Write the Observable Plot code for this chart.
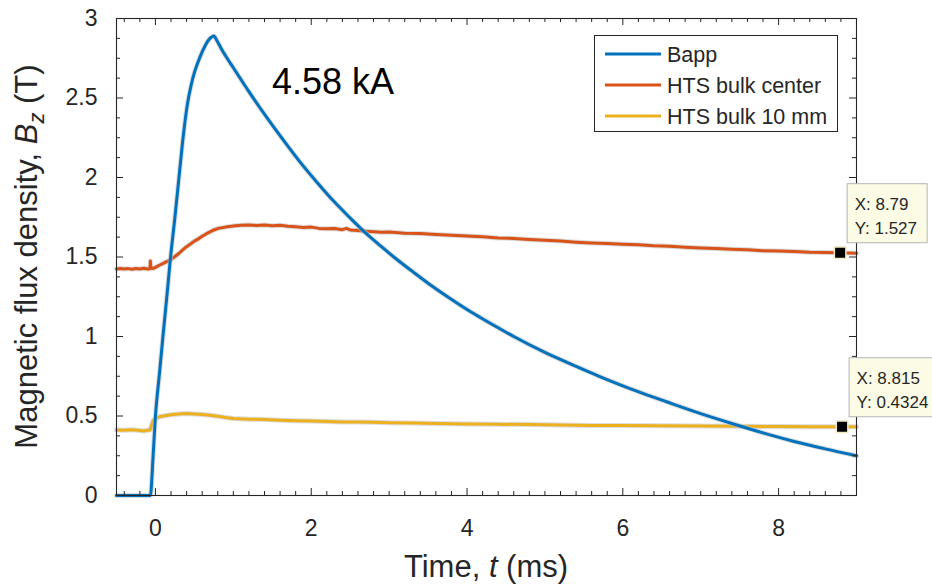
<!DOCTYPE html>
<html><head><meta charset="utf-8">
<script src="https://cdn.jsdelivr.net/npm/d3@7"></script>
<script src="https://cdn.jsdelivr.net/npm/@observablehq/plot@0.6"></script>
<style>html,body{margin:0;padding:0;background:#fff;} #chart svg{display:block}</style>
</head><body><div id="chart"></div>
<script>
// ---- data ----
const seriesNames = ["Bapp", "HTS bulk center", "HTS bulk 10 mm"];
const seriesColors = ["#0072BD", "#D95319", "#EDB120"];

const tBapp = [-0.5, -0.3, -0.1, -0.065, -0.03, 0, 0.05, 0.1, 0.15, 0.19, 0.25, 0.3, 0.35, 0.41, 0.46, 0.5, 0.55, 0.6, 0.65, 0.7, 0.75, 0.79, 0.84, 0.92, 1.0, 1.2, 1.44, 1.65, 1.86, 2.1, 2.29, 2.5, 2.7, 2.89, 3.06, 3.31, 3.5, 3.75, 4.0, 4.17, 4.4, 4.6, 5.0, 5.46, 5.72, 6.0, 6.3, 6.57, 7.0, 7.42, 7.8, 8.2, 8.6, 9.0];
const bBapp = [0, 0, 0, 0, 0.25, 0.5, 0.76, 1.02, 1.27, 1.48, 1.75, 1.99, 2.23, 2.46, 2.585, 2.66, 2.73, 2.79, 2.84, 2.875, 2.89, 2.86, 2.815, 2.75, 2.69, 2.54, 2.37, 2.23, 2.095, 1.955, 1.85, 1.745, 1.65, 1.57, 1.50, 1.405, 1.335, 1.25, 1.17, 1.12, 1.055, 1.0, 0.90, 0.80, 0.745, 0.69, 0.635, 0.588, 0.515, 0.45, 0.394, 0.34, 0.293, 0.25];

const tCenter = [-0.5, -0.45, -0.4, -0.35, -0.3, -0.25, -0.2, -0.15, -0.1, -0.07, -0.065, -0.06, -0.03, 0, 0.05, 0.1, 0.15, 0.2, 0.25, 0.3, 0.35, 0.4, 0.45, 0.5, 0.55, 0.6, 0.65, 0.7, 0.75, 0.8, 0.9, 1.0, 1.1, 1.2, 1.3, 1.4, 1.5, 1.6, 1.7, 1.8, 1.9, 2.0, 2.1, 2.2, 2.3, 2.4, 2.45, 2.5, 2.6, 2.7, 2.8, 2.9, 3.0, 3.2, 3.4, 3.6, 3.8, 4.0, 4.2, 4.4, 4.6, 4.8, 5.0, 5.2, 5.4, 5.6, 5.8, 6.0, 6.2, 6.4, 6.6, 6.8, 7.0, 7.2, 7.4, 7.6, 7.8, 8.0, 8.2, 8.4, 8.6, 8.79, 9.0];
const bCenter = [1.425, 1.428, 1.424, 1.427, 1.423, 1.428, 1.425, 1.429, 1.424, 1.426, 1.475, 1.432, 1.428, 1.435, 1.448, 1.46, 1.472, 1.485, 1.503, 1.522, 1.545, 1.565, 1.582, 1.6, 1.614, 1.63, 1.645, 1.658, 1.67, 1.679, 1.688, 1.695, 1.699, 1.702, 1.698, 1.701, 1.697, 1.699, 1.693, 1.69, 1.686, 1.688, 1.68, 1.677, 1.679, 1.672, 1.68, 1.67, 1.666, 1.662, 1.659, 1.656, 1.657, 1.65, 1.648, 1.642, 1.637, 1.632, 1.628, 1.62, 1.617, 1.61, 1.605, 1.6, 1.593, 1.588, 1.585, 1.58, 1.577, 1.57, 1.567, 1.561, 1.557, 1.553, 1.548, 1.545, 1.54, 1.537, 1.534, 1.53, 1.529, 1.527, 1.524];

const t10mm = [-0.5, -0.4, -0.3, -0.2, -0.15, -0.1, -0.07, -0.05, -0.03, 0, 0.05, 0.1, 0.2, 0.3, 0.4, 0.5, 0.6, 0.7, 0.8, 0.9, 1.0, 1.2, 1.4, 1.6, 1.8, 2.0, 2.2, 2.4, 2.6, 2.8, 3.0, 3.3, 3.6, 4.0, 4.4, 4.8, 5.2, 5.6, 6.0, 6.5, 7.0, 7.5, 8.0, 8.5, 8.815, 9.0];
const b10mm = [0.412, 0.41, 0.413, 0.409, 0.406, 0.411, 0.412, 0.44, 0.47, 0.485, 0.495, 0.5, 0.508, 0.512, 0.515, 0.513, 0.51, 0.505, 0.498, 0.49, 0.484, 0.48, 0.478, 0.474, 0.47, 0.468, 0.466, 0.463, 0.462, 0.46, 0.458, 0.456, 0.453, 0.45, 0.448, 0.446, 0.443, 0.441, 0.44, 0.438, 0.437, 0.435, 0.434, 0.433, 0.4324, 0.432];

const tipX = [8.79, 8.815];
const tipY = [1.527, 0.4324];
const tipLabelX = ["X: 8.79", "X: 8.815"];
const tipLabelY = ["Y: 1.527", "Y: 0.4324"];

const xTicks = [0, 2, 4, 6, 8];
const yTicks = [0, 0.5, 1, 1.5, 2, 2.5, 3];
const xMinor = d3.range(-0.4, 9.0001, 0.2).map(v => +v.toFixed(2)).filter(v => !xTicks.includes(v));
const yMinor = d3.range(0, 3.0001, 0.125).map(v => +v.toFixed(3)).filter(v => !yTicks.includes(v));
const annotation = "4.58 kA";

// ---- build ----
const mk = (ts, vs) => ts.map((t, i) => ({t, v: vs[i]}));
const bapp = mk(tBapp, bBapp), center = mk(tCenter, bCenter), mm10 = mk(t10mm, b10mm);
const tips = tipX.map((x, i) => ({x, y: tipY[i]}));

const W = 932, H = 585, mL = 116, mR = 76, mT = 18, mB = 90;
const fw = W - mL - mR, fh = H - mT - mB;
const ax = "#262626";
const font = '"Liberation Sans", Arial, Helvetica, sans-serif';

const halo = (data, curve) => Plot.line(data, {x: "t", y: "v", curve, stroke: "#c4c4c4", strokeWidth: 5, strokeOpacity: 0.6});
const chart = Plot.plot({
  width: W, height: H, marginLeft: mL, marginRight: mR, marginTop: mT, marginBottom: mB,
  x: {domain: [-0.5, 9]}, y: {domain: [0, 3]},
  style: {fontFamily: font, color: ax, background: "#fff", overflow: "visible"},
  marks: [
    halo(center), Plot.line(center, {x: "t", y: "v", stroke: seriesColors[1], strokeWidth: 3}),
    halo(mm10), Plot.line(mm10, {x: "t", y: "v", stroke: seriesColors[2], strokeWidth: 3}),
    halo(bapp, "monotone-x"), Plot.line(bapp, {x: "t", y: "v", curve: "monotone-x", stroke: seriesColors[0], strokeWidth: 3}),
    // inward tick marks on all four sides
    Plot.ruleX(xTicks, {stroke: ax, insetTop: fh - 7}),
    Plot.ruleX(xTicks, {stroke: ax, insetBottom: fh - 7}),
    Plot.ruleX(xMinor, {stroke: ax, insetTop: fh - 4}),
    Plot.ruleX(xMinor, {stroke: ax, insetBottom: fh - 4}),
    Plot.ruleY(yTicks, {stroke: ax, insetRight: fw - 7}),
    Plot.ruleY(yTicks, {stroke: ax, insetLeft: fw - 7}),
    Plot.ruleY(yMinor, {stroke: ax, insetRight: fw - 4}),
    Plot.ruleY(yMinor, {stroke: ax, insetLeft: fw - 4}),
    Plot.frame({stroke: ax, strokeWidth: 1.1}),
    Plot.axisX(xTicks, {anchor: "bottom", tickSize: 0, tickPadding: 24, tickFormat: d => String(d), fontSize: 23, label: null}),
    Plot.axisY(yTicks, {anchor: "left", tickSize: 0, tickPadding: 19, tickFormat: d => String(d), fontSize: 23, label: null}),
    Plot.dot(tips, {x: "x", y: "y", symbol: "square", r: 6.5, fill: "#000", stroke: "#f0ebc4", strokeWidth: 1.5})
  ]
});
document.getElementById("chart").appendChild(chart);

const svg = d3.select(chart);
const xs = chart.scale("x"), ys = chart.scale("y");
const sx = v => xs.apply(v), sy = v => ys.apply(v);

// data tips
tips.forEach((d, i) => {
  const px = sx(d.x), py = sy(d.y);
  const g = svg.append("g").attr("font-family", font).attr("font-size", 17).attr("fill", ax).attr("text-anchor", "start");
  g.append("rect").attr("x", px + 7.5).attr("y", py - 68.5).attr("width", i === 0 ? 80 : 92).attr("height", 59)
    .attr("fill", "#fcfce6").attr("stroke", "#b5b5b5").attr("stroke-width", 1);
  g.append("text").attr("x", px + 15).attr("y", py - 42).text(tipLabelX[i]);
  g.append("text").attr("x", px + 15).attr("y", py - 18).text(tipLabelY[i]);
});

// legend
const lg = svg.append("g").attr("font-family", font).attr("font-size", 21.5).attr("fill", ax).attr("text-anchor", "start");
lg.append("rect").attr("x", 594.5).attr("y", 35.5).attr("width", 243).attr("height", 96).attr("fill", "#fff").attr("stroke", ax);
seriesNames.forEach((name, i) => {
  const y = 54 + 31 * i;
  lg.append("line").attr("x1", 605).attr("x2", 661).attr("y1", y).attr("y2", y).attr("stroke", seriesColors[i]).attr("stroke-width", 3);
  lg.append("text").attr("x", 667).attr("y", y + 8).text(name);
});

// annotation
svg.append("text").attr("x", 272).attr("y", 94).attr("text-anchor", "start").attr("font-family", font).attr("font-size", 36).attr("fill", "#000").text(annotation);

// axis labels
const xl = svg.append("text").attr("x", (mL + W - mR) / 2).attr("y", 577).attr("text-anchor", "middle")
  .attr("font-family", font).attr("font-size", 31).attr("fill", ax);
xl.append("tspan").text("Time, ");
xl.append("tspan").attr("font-style", "italic").text("t");
xl.append("tspan").text(" (ms)");

const yl = svg.append("text").attr("transform", `translate(37,${(mT + H - mB) / 2}) rotate(-90)`).attr("text-anchor", "middle")
  .attr("font-family", font).attr("font-size", 31).attr("fill", ax);
yl.append("tspan").text("Magnetic flux density, ");
yl.append("tspan").attr("font-style", "italic").text("B");
yl.append("tspan").attr("font-style", "italic").attr("font-size", 22).attr("dy", 7).text("z");
yl.append("tspan").attr("dy", -7).text(" (T)");
</script>
</body></html>
